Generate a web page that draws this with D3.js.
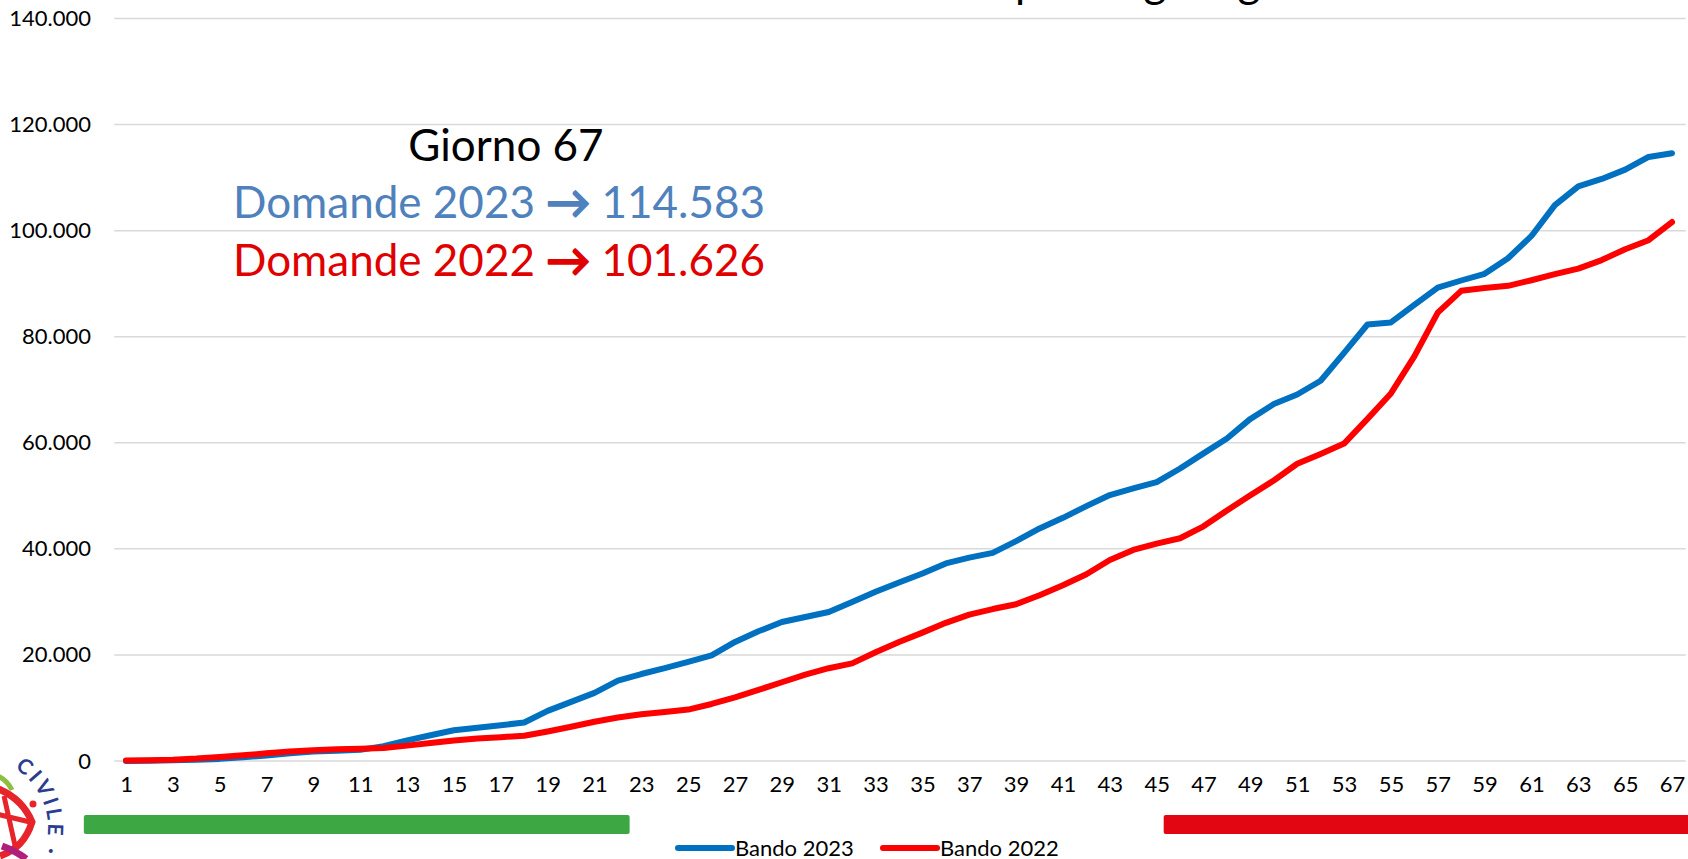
<!DOCTYPE html>
<meta charset="utf-8">
<head>
  <style>
    body {
      margin: 0;
      background: #fff;
      overflow: hidden;
    }
    svg {
      display: block;
    }
    text {
      font-family: Lato, "Open Sans", sans-serif;
    }
    .grid line {
      stroke: #d9d9d9;
      stroke-width: 1.5px;
    }
    .serie {
      fill: none;
      stroke-width: 6px;
      stroke-linejoin: round;
      stroke-linecap: round;
    }
  </style>
</head>
<body>
  <script src="https://d3js.org/d3.v7.min.js"></script>
  <script>
    // giorni dall'apertura del bando
    const days = d3.range(1, 68);

    const bando2023 = [
      0, 50, 150, 250, 400, 700, 1050, 1450, 1800, 1950,
      2100, 2800, 3900, 4850, 5800, 6250, 6750, 7250, 9450, 11150,
      12850, 15150, 16400, 17500, 18700, 19900, 22450, 24450, 26200, 27150,
      28100, 30000, 31900, 33650, 35350, 37250, 38350, 39250, 41450, 43850,
      45850, 48050, 50150, 51400, 52600, 55150, 58000, 60800, 64500, 67300,
      69100, 71700, 76950, 82300, 82700, 86000, 89250, 90600, 91850, 94800,
      99000, 104800, 108350, 109750, 111500, 113900, 114583
    ];

    const bando2022 = [
      100, 150, 250, 450, 750, 1070, 1450, 1770, 2020, 2200,
      2300, 2450, 2900, 3400, 3850, 4250, 4500, 4750, 5550, 6450,
      7400, 8200, 8800, 9250, 9700, 10750, 12000, 13400, 14850, 16300,
      17500, 18400, 20500, 22450, 24200, 26050, 27600, 28650, 29550, 31250,
      33150, 35200, 37900, 39800, 41000, 42000, 44250, 47250, 50100, 52900,
      56050, 57900, 59850, 64500, 69300, 76300, 84550, 88650, 89200, 89600,
      90650, 91800, 92850, 94450, 96500, 98200, 101626
    ];

    const seriesNames = ["Bando 2023", "Bando 2022"];
    const yTicks = [0, 20000, 40000, 60000, 80000, 100000, 120000, 140000];
    const xTickDays = days.filter(d => d % 2 === 1);

    // periodi evidenziati sotto l'asse (in giorni)
    const periodStart = [-0.8, 45.3];
    const periodEnd = [22.5, 69];

    const titleText = "Domande ricevute per singolo giorno";
    const annoDay = 67;

    const width = 1688, height = 859;
    const colors = ["#0070c0", "#ff0000"];
    const periodColors = ["#3da843", "#e20613"];

    const it = d3.formatLocale({
      decimal: ",", thousands: ".", grouping: [3], currency: ["€", ""]
    });
    const fmt = it.format(",d");

    const svg = d3.select("body").append("svg")
      .attr("width", width)
      .attr("height", height);

    const x = d3.scalePoint().domain(days).range([126, 1672]);
    const xDay = d3.scaleLinear().domain([1, 67]).range([126, 1672]);
    const y = d3.scaleLinear().domain([0, 140000]).range([761, 18.5]);
    const half = x.step() / 2;

    // griglia
    svg.append("g").attr("class", "grid")
      .selectAll("line")
      .data(yTicks)
      .join("line")
      .attr("x1", x(1) - half)
      .attr("x2", x(67) + half + 2)
      .attr("y1", d => y(d))
      .attr("y2", d => y(d));

    // asse y
    const yAxis = svg.append("g")
      .attr("transform", "translate(91,0)")
      .call(d3.axisLeft(y).tickValues(yTicks).tickSize(0).tickPadding(0)
        .tickFormat(d => fmt(d)));
    yAxis.select(".domain").remove();
    yAxis.selectAll("text")
      .attr("font-size", 22)
      .attr("font-family", "Lato, sans-serif")
      .attr("fill", "#000");

    // asse x
    const xAxis = svg.append("g")
      .attr("transform", "translate(0,776)")
      .call(d3.axisBottom(x).tickValues(xTickDays).tickSize(0).tickPadding(0));
    xAxis.select(".domain").remove();
    xAxis.selectAll("text")
      .attr("font-size", 22)
      .attr("font-family", "Lato, sans-serif")
      .attr("fill", "#000");

    // barre periodi
    svg.append("g")
      .selectAll("rect")
      .data(periodStart)
      .join("rect")
      .attr("x", d => xDay(d))
      .attr("width", (d, i) => xDay(periodEnd[i]) - xDay(d))
      .attr("y", 815)
      .attr("height", 19)
      .attr("rx", 2)
      .attr("fill", (d, i) => periodColors[i]);

    // linee
    const line = d3.line()
      .x((d, i) => x(days[i]))
      .y(d => y(d));

    svg.append("g")
      .selectAll("path")
      .data([bando2023, bando2022])
      .join("path")
      .attr("class", "serie")
      .attr("stroke", (d, i) => colors[i])
      .attr("d", line);

    // annotazione
    const ann = svg.append("g").attr("text-anchor", "middle");
    ann.append("text")
      .attr("x", 506).attr("y", 161)
      .attr("font-size", 44)
      .attr("fill", "#000")
      .text("Giorno " + annoDay);

    const annLines = [
      { label: "Domande 2023", value: bando2023[annoDay - 1], color: "#4f81bd", y: 218 },
      { label: "Domande 2022", value: bando2022[annoDay - 1], color: "#e00000", y: 276 }
    ];
    annLines.forEach(a => {
      const t = ann.append("text")
        .attr("x", 499).attr("y", a.y)
        .attr("font-size", 44)
        .attr("fill", a.color);
      t.append("tspan").text(a.label + " ");
      t.append("tspan")
        .attr("stroke", a.color)
        .attr("stroke-width", 2.2)
        .attr("stroke-linejoin", "round")
        .text("→");
      t.append("tspan").text(" " + fmt(a.value));
    });

    // titolo (tagliato in alto)
    const title = svg.append("text")
      .attr("y", -3)
      .attr("font-size", 44)
      .attr("fill", "#000")
      .text(titleText);
    const pre = title.node().getSubStringLength(0, titleText.indexOf("per"));
    title.attr("x", 1015 - pre);

    // legenda
    const leg = svg.append("g")
      .selectAll("g")
      .data(seriesNames)
      .join("g")
      .attr("transform", (d, i) => `translate(${678 + i * 205},848)`);
    leg.append("line")
      .attr("x1", 0).attr("x2", 54)
      .attr("stroke", (d, i) => colors[i])
      .attr("stroke-width", 6)
      .attr("stroke-linecap", "round");
    leg.append("text")
      .attr("x", 57)
      .attr("dy", "0.35em")
      .attr("font-size", 22)
      .text(d => d);

    // logo (parziale, in basso a sinistra)
    const logo = svg.append("g");
    const cx = -22, cy = 828, r = 70;
    const a0 = -80 * Math.PI / 180, a1 = 70 * Math.PI / 180;
    logo.append("path")
      .attr("id", "logoArc")
      .attr("fill", "none")
      .attr("d", `M${cx + r * Math.cos(a0)},${cy + r * Math.sin(a0)} A${r},${r} 0 0 1 ${cx + r * Math.cos(a1)},${cy + r * Math.sin(a1)}`);
    logo.append("text")
      .attr("font-size", 21)
      .attr("font-weight", 700)
      .attr("letter-spacing", 3)
      .attr("fill", "#2b3d8f")
      .append("textPath")
      .attr("href", "#logoArc")
      .attr("startOffset", 26)
      .text("CIVILE · E");
    logo.append("path")
      .attr("d", "M-4,788 Q22,798 32,822 Q24,848 0,856")
      .attr("fill", "none").attr("stroke", "#e8242b").attr("stroke-width", 7);
    logo.append("path")
      .attr("d", "M-4,814 L30,822 M4,796 L16,850")
      .attr("fill", "none").attr("stroke", "#e8242b").attr("stroke-width", 5);
    logo.append("path")
      .attr("d", "M2,846 Q18,852 26,859")
      .attr("fill", "none").attr("stroke", "#b0207a").attr("stroke-width", 7);
    logo.append("path")
      .attr("d", "M-2,776 Q7,780 12,790")
      .attr("fill", "none").attr("stroke", "#8cbf3f").attr("stroke-width", 5);
    logo.append("circle")
      .attr("cx", 33).attr("cy", 804).attr("r", 3.5)
      .attr("fill", "#e8242b");
  </script>
</body>
